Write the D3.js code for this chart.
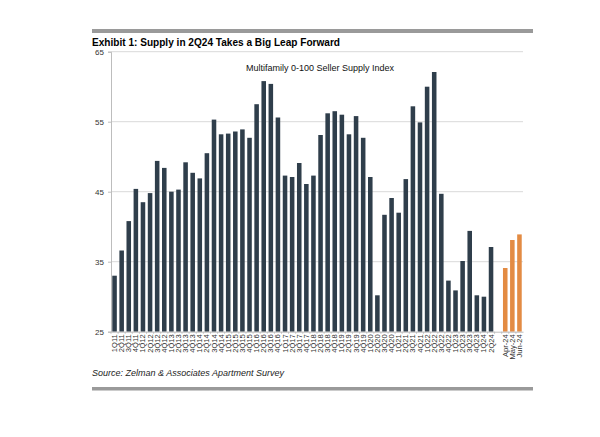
<!DOCTYPE html>
<html><head><meta charset="utf-8">
<script src="https://cdn.jsdelivr.net/npm/d3@7"></script>
<style>body{margin:0;background:#fff}svg{display:block}text{font-family:"Liberation Sans",Arial,sans-serif}</style>
</head><body>
<svg id="c" width="600" height="437"></svg>
<script>
const quarters = ["1Q11","2Q11","3Q11","4Q11","1Q12","2Q12","3Q12","4Q12","1Q13","2Q13","3Q13","4Q13","1Q14","2Q14","3Q14","4Q14","1Q15","2Q15","3Q15","4Q15","1Q16","2Q16","3Q16","4Q16","1Q17","2Q17","3Q17","4Q17","1Q18","2Q18","3Q18","4Q18","1Q19","2Q19","3Q19","4Q19","1Q20","2Q20","3Q20","4Q20","1Q21","2Q21","3Q21","4Q21","1Q22","2Q22","3Q22","4Q22","1Q23","2Q23","3Q23","4Q23","1Q24","2Q24"];
const quarterValues = [33.0,36.6,40.8,45.4,43.5,44.8,49.4,48.4,45.0,45.3,49.2,47.7,46.9,50.5,55.3,53.2,53.3,53.6,53.9,52.7,57.5,60.8,60.4,55.6,47.3,47.1,49.1,46.1,47.3,53.1,56.2,56.5,56.0,53.2,55.8,52.7,47.1,30.2,41.7,44.1,42.0,46.8,57.2,54.9,60.0,62.1,44.7,32.3,30.9,35.1,39.4,30.2,30.0,37.1];
const months = ["Apr-24","May-24","Jun-24"];
const monthValues = [34.1,38.1,38.9];
const yTicks = [25,35,45,55,65];
const title = "Exhibit 1: Supply in 2Q24 Takes a Big Leap Forward";
const legendLabel = "Multifamily 0-100 Seller Supply Index";
const source = "Source: Zelman & Associates Apartment Survey";

const svg = d3.select("#c");
const x0 = 111, x1 = 523, yTop = 51.7, yBot = 331.7;
const cats = quarters.concat([" "], months);
const x = d3.scaleBand().domain(cats).range([x0, x1]).paddingInner(0.36).paddingOuter(0.18);
const y = d3.scaleLinear().domain([25, 65]).range([yBot, yTop]);

// bands
svg.append("rect").attr("x",92).attr("y",29).attr("width",441).attr("height",4).attr("fill","#9a9a9a");
svg.append("rect").attr("x",92).attr("y",387).attr("width",441).attr("height",3.5).attr("fill","#9a9a9a");

svg.append("text").attr("x",92).attr("y",46).attr("font-size",11).attr("font-weight","bold").attr("fill","#000")
  .attr("textLength",248).attr("lengthAdjust","spacingAndGlyphs").text(title);

// gridlines
svg.append("g").selectAll("line").data(yTicks.filter(d=>d>25)).join("line")
  .attr("x1",x0).attr("x2",x1).attr("y1",d=>y(d)).attr("y2",d=>y(d))
  .attr("stroke","#d9d9d9").attr("stroke-width",1);

// y axis
const ya = svg.append("g").attr("transform",`translate(${x0},0)`)
  .call(d3.axisLeft(y).tickValues(yTicks).tickSize(3).tickPadding(4));
ya.select(".domain").attr("stroke","#bdbdbd");
ya.selectAll(".tick line").attr("stroke","#bdbdbd");
ya.selectAll("text").attr("font-size",8).attr("fill","#333").style("font-family","Liberation Sans, Arial");

// bars
const data = quarters.map((c,i)=>({c, v:quarterValues[i], m:false}))
  .concat(months.map((c,i)=>({c, v:monthValues[i], m:true})));
svg.append("g").selectAll("rect").data(data).join("rect")
  .attr("x",d=>x(d.c)).attr("width",x.bandwidth())
  .attr("y",d=>y(d.v)).attr("height",d=>yBot-y(d.v))
  .attr("fill",d=>d.m?"#e38b43":"#2f3e4b");

// x axis
const xa = svg.append("g").attr("transform",`translate(0,${yBot})`)
  .call(d3.axisBottom(x).tickSize(0).tickPadding(0));
xa.select(".domain").attr("stroke","#bdbdbd");
xa.selectAll(".tick text").attr("font-size",7.6).attr("fill","#333")
  .attr("transform","rotate(-90)").attr("text-anchor","end").attr("dx","-2.5").attr("dy","0.33em").attr("x",0).attr("y",0)
  .style("font-family","Liberation Sans, Arial");
// small ticks between categories
svg.append("g").selectAll("line").data(cats).join("line")
  .attr("x1",d=>x(d)-x.step()*x.paddingInner()/2).attr("x2",d=>x(d)-x.step()*x.paddingInner()/2)
  .attr("y1",yBot).attr("y2",yBot+2).attr("stroke","#bdbdbd");

svg.append("text").attr("x",320).attr("y",71).attr("text-anchor","middle").attr("font-size",9).attr("fill","#111").text(legendLabel);
svg.append("text").attr("x",92).attr("y",376).attr("font-size",9).attr("font-style","italic").attr("fill","#222").text(source);
</script>
</body></html>
